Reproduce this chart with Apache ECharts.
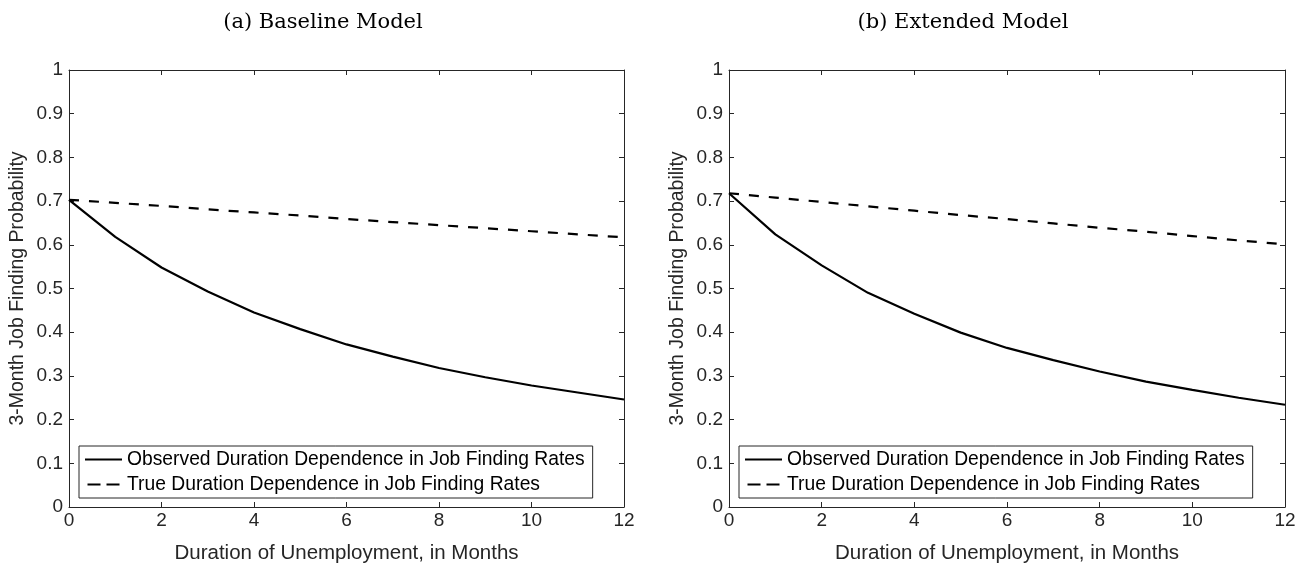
<!DOCTYPE html>
<html><head><meta charset="utf-8">
<script src="https://cdn.jsdelivr.net/npm/echarts@6/dist/echarts.min.js"></script>
<style>html,body{margin:0;padding:0;background:#fff}#c{width:1307px;height:570px}</style>
</head><body><div id="c"></div>
<script>
const months = [0,1,2,3,4,5,6,7,8,9,10,11,12];
const baseObserved = [0.703,0.618,0.548,0.493,0.445,0.407,0.372,0.344,0.318,0.297,0.278,0.262,0.246];
const baseTrue     = [0.703,0.696,0.689,0.681,0.674,0.667,0.659,0.652,0.645,0.638,0.631,0.624,0.617];
const extObserved  = [0.718,0.624,0.553,0.490,0.442,0.399,0.364,0.336,0.310,0.287,0.268,0.250,0.234];
const extTrue      = [0.718,0.708,0.698,0.688,0.678,0.668,0.659,0.649,0.639,0.630,0.620,0.610,0.601];
const xTicks = [0,2,4,6,8,10,12];
const yTicks = [0,0.1,0.2,0.3,0.4,0.5,0.6,0.7,0.8,0.9,1];
const titles = ['(a) Baseline Model','(b) Extended Model'];
const nameObs = 'Observed Duration Dependence in Job Finding Rates';
const nameTrue = 'True Duration Dependence in Job Finding Rates';
const xName = 'Duration of Unemployment, in Months';
const yName = '3-Month Job Finding Probability';

const axisColor = '#262626';
const font = 'Liberation Sans, Arial, sans-serif';
const grids = [
  {left:69, right:683, top:70, bottom:63},
  {left:729, right:22, top:70, bottom:63}
];
const xAxes = [], yAxes = [], series = [], legends = [], titleArr = [];
const titleX = [318, 958];
grids.forEach((g,i)=>{
  xAxes.push({type:'value', gridIndex:i, min:xTicks[0], max:xTicks[xTicks.length-1], interval:xTicks[1]-xTicks[0], position:'bottom',
    name:xName, nameLocation:'middle', nameGap:36,
    nameTextStyle:{fontFamily:font, fontSize:20.5, color:axisColor},
    axisLine:{show:true, onZero:false, lineStyle:{color:axisColor, width:1}},
    axisTick:{show:true, inside:true, length:5, lineStyle:{color:axisColor}},
    axisLabel:{fontFamily:font, fontSize:19, color:axisColor, margin:4},
    splitLine:{show:false}});
  xAxes.push({type:'value', gridIndex:i, min:xTicks[0], max:xTicks[xTicks.length-1], interval:xTicks[1]-xTicks[0], position:'top',
    axisLine:{show:true, onZero:false, lineStyle:{color:axisColor, width:1}},
    axisTick:{show:true, inside:true, length:5, lineStyle:{color:axisColor}},
    axisLabel:{show:false}, splitLine:{show:false}});
  yAxes.push({type:'value', gridIndex:i, min:yTicks[0], max:yTicks[yTicks.length-1], interval:0.1, position:'left',
    name:yName, nameLocation:'middle', nameGap:41,
    nameTextStyle:{fontFamily:font, fontSize:19.5, color:axisColor},
    axisLine:{show:true, onZero:false, lineStyle:{color:axisColor, width:1}},
    axisTick:{show:true, inside:true, length:5, lineStyle:{color:axisColor}},
    axisLabel:{fontFamily:font, fontSize:19, color:axisColor, margin:6,
      formatter:v=>{const r=Math.round(v*10)/10; return r===0?'0':(r===1?'1':String(r));}},
    splitLine:{show:false}});
  yAxes.push({type:'value', gridIndex:i, min:yTicks[0], max:yTicks[yTicks.length-1], interval:0.1, position:'right',
    axisLine:{show:true, onZero:false, lineStyle:{color:axisColor, width:1}},
    axisTick:{show:true, inside:true, length:5, lineStyle:{color:axisColor}},
    axisLabel:{show:false}, splitLine:{show:false}});
  titleArr.push({text:titles[i], left:titleX[i], top:7, textAlign:'center',
    textStyle:{fontFamily:'DejaVu Serif, Liberation Serif, serif', fontWeight:'normal', fontSize:21, color:'#000'}});
});
const dataSets = [[baseObserved, baseTrue],[extObserved, extTrue]];
dataSets.forEach((d,i)=>{
  series.push({type:'line', name:nameObs, xAxisIndex:i*2, yAxisIndex:i*2,
    data: months.map((m,k)=>[m,d[0][k]]), symbol:'none', silent:true,
    lineStyle:{color:'#000', width:2.2, type:'solid'}, itemStyle:{color:'#000'}, z:3});
  series.push({type:'line', name:nameTrue, xAxisIndex:i*2, yAxisIndex:i*2,
    data: months.map((m,k)=>[m,d[1][k]]), symbol:'none', silent:true,
    lineStyle:{color:'#000', width:2.2, type:[10,10]}, itemStyle:{color:'#000'}, z:3});
});
[79, 739].forEach(lx=>{
  legends.push({orient:'vertical', left:lx, top:446,
    data:[{name:nameObs, icon:'path://M0,0H37V2.2H0Z'},
          {name:nameTrue, icon:'path://M0,0H13V2.2H0Z M19,0H32V2.2H19Z'}],
    itemWidth:37, itemHeight:2.2, itemGap:6, padding:[4,8,4,6],
    borderColor:axisColor, borderWidth:1, backgroundColor:'#fff',
    selectedMode:false,
    itemStyle:{color:'#000', borderWidth:0},
    textStyle:{fontFamily:font, fontSize:19.3, color:'#000'}});
});
const chart = echarts.init(document.getElementById('c'), null, {renderer:'canvas'});
chart.setOption({animation:false, backgroundColor:'#fff', title:titleArr, grid:grids,
  xAxis:xAxes, yAxis:yAxes, series:series, legend:legends});
</script></body></html>
